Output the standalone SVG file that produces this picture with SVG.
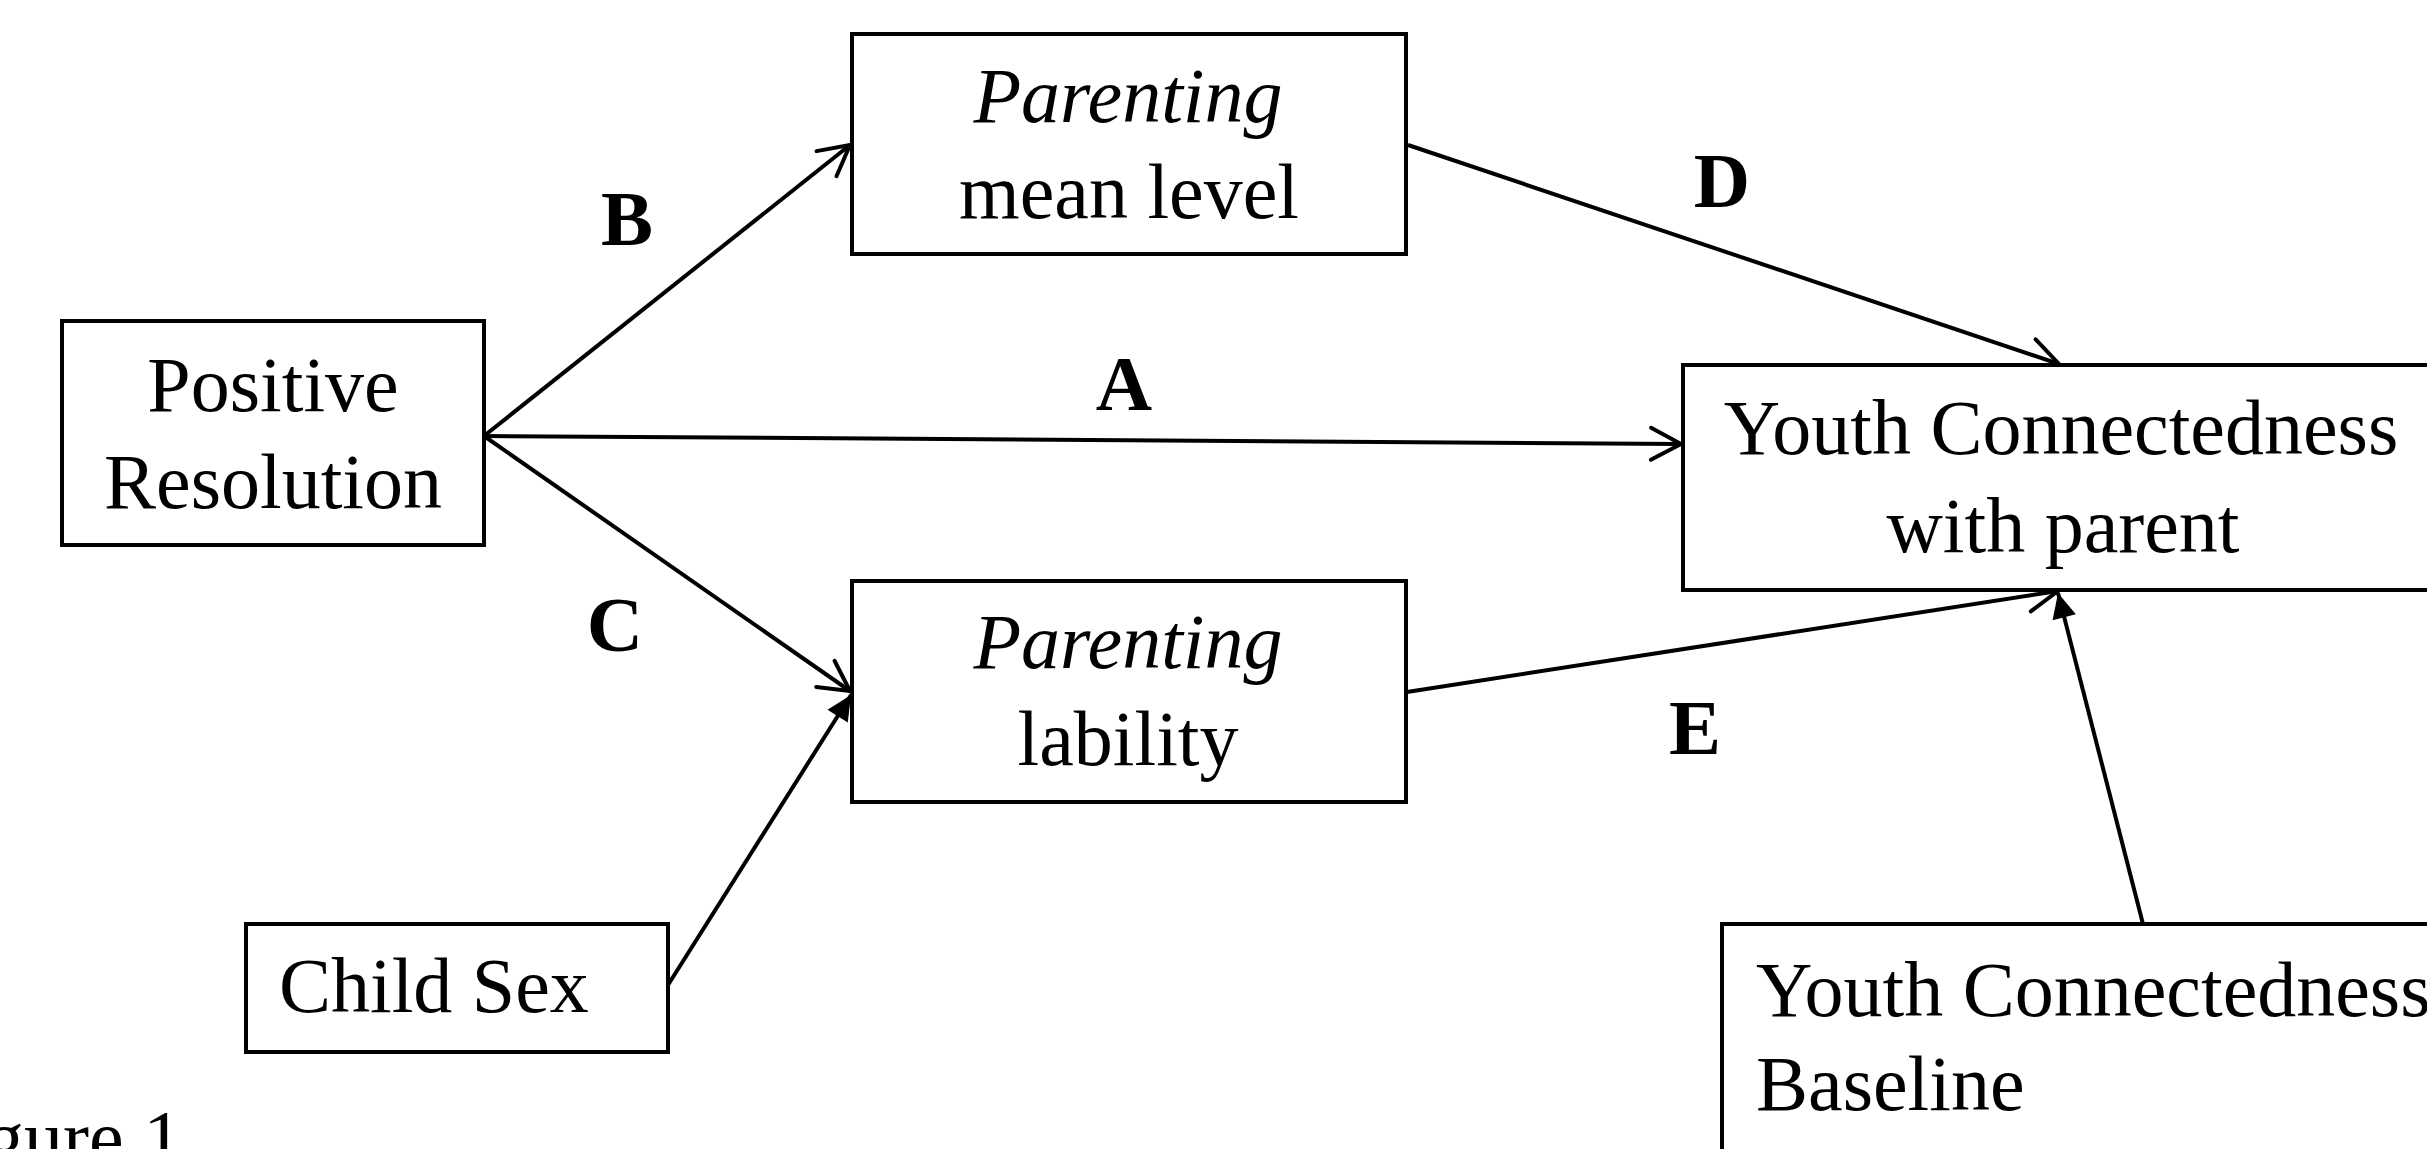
<svg xmlns="http://www.w3.org/2000/svg" width="2427" height="1149" viewBox="0 0 2427 1149">
<style>
  .box { fill: #ffffff; stroke: #000000; stroke-width: 4; }
  .t { font-family: "Liberation Serif", "Times New Roman", serif; font-size: 78px; fill: #000000; }
  .c { text-anchor: middle; }
  .i { font-style: italic; }
  .lbl { font-family: "Liberation Serif", "Times New Roman", serif; font-size: 78px; font-weight: bold; fill: #000000; text-anchor: middle; }
  .edge { stroke: #000000; stroke-width: 4; fill: none; }
</style>
<defs>
  <marker id="open" markerUnits="userSpaceOnUse" viewBox="-36 -20 40 40" refX="0" refY="0" markerWidth="40" markerHeight="40" orient="auto" overflow="visible">
    <path d="M-30,-16 L0,0 L-30,16" fill="none" stroke="#000" stroke-width="4" stroke-linecap="round" stroke-linejoin="round"/>
  </marker>
  <marker id="solid" markerUnits="userSpaceOnUse" viewBox="-28 -14 30 28" refX="0" refY="0" markerWidth="30" markerHeight="28" orient="auto" overflow="visible">
    <path d="M-25,-12 L0,0 L-25,12 Z" fill="#000" stroke="none"/>
  </marker>
</defs>
<rect width="2427" height="1149" fill="#ffffff"/>

<g id="connectors">
  <line class="edge" x1="484" y1="436" x2="850" y2="145" marker-end="url(#open)"/>
  <line class="edge" x1="484" y1="436" x2="1681" y2="444" marker-end="url(#open)"/>
  <line class="edge" x1="484" y1="436" x2="850" y2="691" marker-end="url(#open)"/>
  <line class="edge" x1="668" y1="985" x2="851" y2="695" marker-end="url(#solid)"/>
  <line class="edge" x1="1408" y1="145" x2="2059" y2="364" marker-end="url(#open)"/>
  <line class="edge" x1="1407" y1="692" x2="2058" y2="591" marker-end="url(#open)"/>
  <line class="edge" x1="2143" y1="924" x2="2058" y2="593" marker-end="url(#solid)"/>
</g>

<g id="positive-resolution">
  <rect class="box" x="62" y="321" width="422" height="224"/>
  <text class="t c" x="273" y="411">Positive</text>
  <text class="t c" x="273" y="508">Resolution</text>
</g>

<g id="parenting-mean-level">
  <rect class="box" x="852" y="34" width="554" height="220"/>
  <text class="t c i" x="1128" y="122">Parenting</text>
  <text class="t c" x="1129" y="218">mean level</text>
</g>

<g id="parenting-lability">
  <rect class="box" x="852" y="581" width="554" height="221"/>
  <text class="t c i" x="1128" y="668">Parenting</text>
  <text class="t c" x="1128" y="765">lability</text>
</g>

<g id="youth-connectedness">
  <rect class="box" x="1683" y="365" width="760" height="225"/>
  <text class="t c" x="2061" y="454">Youth Connectedness</text>
  <text class="t c" x="2063" y="552">with parent</text>
</g>

<g id="youth-connectedness-baseline">
  <rect class="box" x="1722" y="924" width="760" height="240"/>
  <text class="t" x="1756" y="1016">Youth Connectedness</text>
  <text class="t" x="1756" y="1110">Baseline</text>
</g>

<g id="child-sex">
  <rect class="box" x="246" y="924" width="422" height="128"/>
  <text class="t" x="279" y="1012">Child Sex</text>
</g>

<g id="labels">
  <text class="lbl" x="627" y="245">B</text>
  <text class="lbl" x="1124" y="410">A</text>
  <text class="lbl" x="615" y="651">C</text>
  <text class="lbl" x="1722" y="207">D</text>
  <text class="lbl" x="1695" y="754">E</text>
</g>

<text class="t" x="-80" y="1164">Figure 1</text>
</svg>
